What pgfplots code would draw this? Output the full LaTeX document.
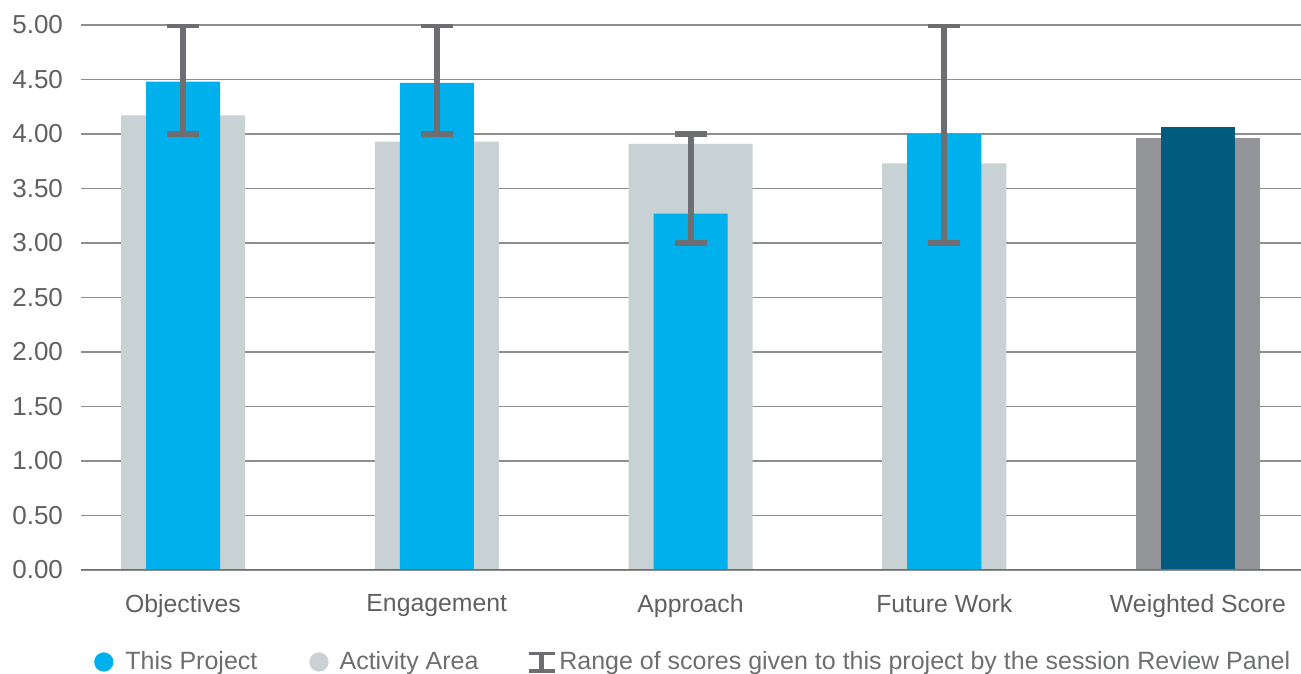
\documentclass[border=0pt]{standalone}
\usepackage{pgfplots}
\pgfplotsset{compat=1.18}
\usepackage{fontspec}
\setmainfont{Liberation Sans}
\definecolor{projblue}{HTML}{00B0EC}
\definecolor{areagray}{HTML}{C8D1D3}
\definecolor{wblue}{HTML}{005B7F}
\definecolor{wgray}{HTML}{939598}
\definecolor{rangegray}{HTML}{6D6E71}
\definecolor{gridgray}{HTML}{8E8E8E}
\definecolor{labelgray}{HTML}{606060}
\begin{document}
\begin{tikzpicture}
\path[use as bounding box] (-40.5pt,-52pt) rectangle (610pt,285pt);
\begin{axis}[
  scale only axis, width=610pt, height=272.5pt,
  xmin=-0.402, xmax=4.406, ymin=0, ymax=5,
  axis line style={draw=none},
  major tick length=0pt,
  ymajorgrids, grid style={gridgray, line width=0.6pt},
  ytick={0,0.5,...,5},
  yticklabel style={font=\fontsize{13}{15}\selectfont, text=labelgray,
    /pgf/number format/fixed, /pgf/number format/fixed zerofill,
    /pgf/number format/precision=2, /pgf/number format/assume math mode=true},
  xtick={0,1,2,3,4},
  xticklabels={Objectives, Engagement, Approach, Future Work, Weighted Score},
  xticklabel style={font=\fontsize{12.4}{14}\selectfont, text=labelgray},
  yticklabel shift=5.5pt,
  xticklabel shift=8.5pt,
  legend columns=-1,
  legend style={draw=none, fill=none, inner sep=0pt,
    at={(axis description cs:0.0105,-0.1688)}, anchor=west,
    font=\fontsize{12.5}{14}\selectfont, text=rangegray},
]
% activity-area averages
\addplot[ybar, bar width=62pt, bar shift=0pt, fill=areagray, draw=none, forget plot]
  coordinates {(0,4.17) (1,3.93) (2,3.91) (3,3.73)};
\addplot[ybar, bar width=62pt, bar shift=0pt, fill=wgray, draw=none, forget plot]
  coordinates {(4,3.96)};
% this project's scores
\addplot[ybar, bar width=37pt, bar shift=0pt, fill=projblue, draw=none, forget plot]
  coordinates {(0,4.48) (1,4.47) (2,3.27) (3,4.00)};
\addplot[ybar, bar width=37pt, bar shift=0pt, fill=wblue, draw=none, forget plot]
  coordinates {(4,4.06)};
% score ranges from the review panel (midpoint +- half range)
\addplot[draw=none, mark=none, forget plot,
  error bars/.cd, y dir=both, y explicit,
  error bar style={draw=rangegray, line width=3pt},
  error mark=|,
  error mark options={draw=rangegray, line width=2.8pt, mark size=8pt}]
  coordinates {(0,4.5) +- (0,0.5) (1,4.5) +- (0,0.5) (2,3.5) +- (0,0.5) (3,4.0) +- (0,1.0)};
\draw[rangegray, line width=1.2pt] (rel axis cs:0,0) -- (rel axis cs:1,0);
% legend
\addlegendimage{legend image code/.code={\fill[projblue] (4.6pt,0pt) circle (4.6pt);}}
\addlegendentry{\hspace*{4pt}This Project\hspace*{24pt}}
\addlegendimage{legend image code/.code={\fill[areagray] (4.6pt,0pt) circle (4.6pt);}}
\addlegendentry{\hspace*{3.5pt}Activity Area\hspace*{23pt}}
\addlegendimage{legend image code/.code={%
  \fill[rangegray] (0pt,3.6pt) rectangle (12.5pt,5pt);
  \fill[rangegray] (0pt,-5pt) rectangle (12.5pt,-3.6pt);
  \fill[rangegray] (5.25pt,-5pt) rectangle (7.25pt,5pt);}}
\addlegendentry{\hspace*{0.5pt}Range of scores given to this project by the session Review Panel}
\end{axis}
\end{tikzpicture}
\end{document}
